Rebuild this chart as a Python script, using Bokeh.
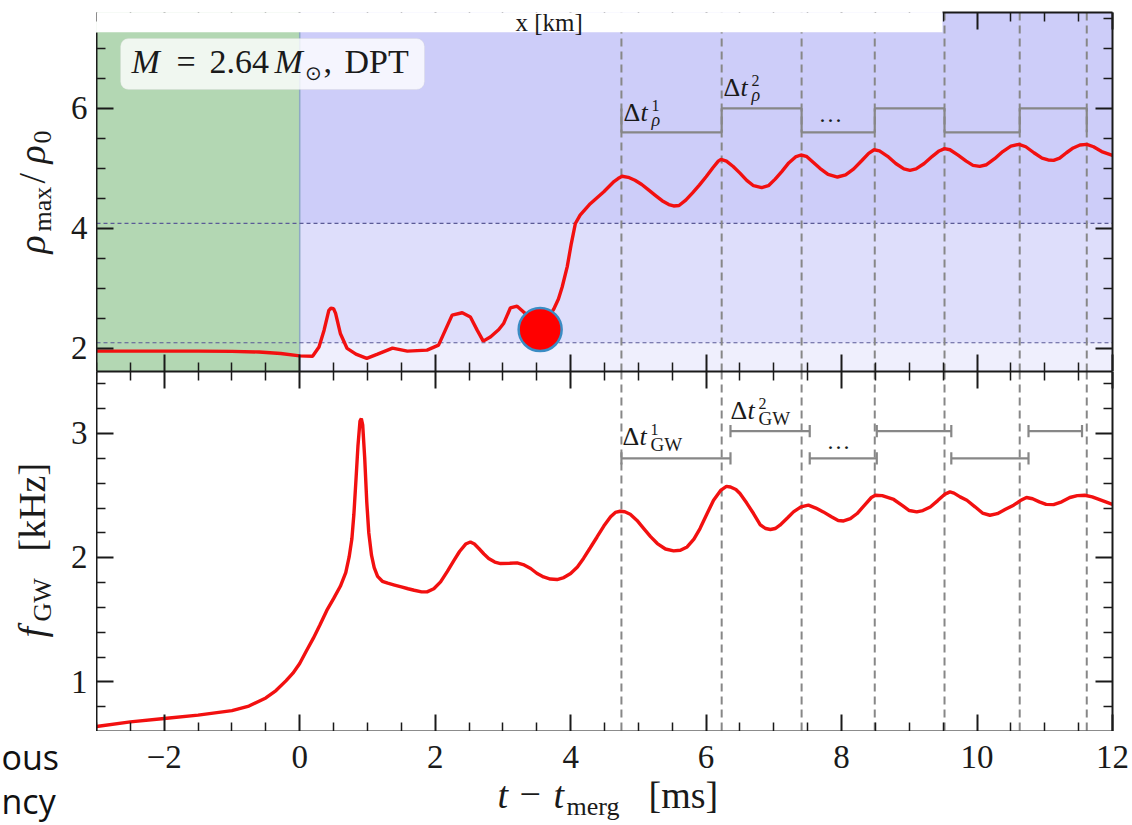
from math import pi

from bokeh.plotting import figure
from bokeh.models import Range1d, LinearAxis, FixedTicker, BoxAnnotation, Span, Label
from bokeh.layouts import column, row
from bokeh.embed import file_html
from bokeh.resources import INLINE

# ---------------------------------------------------------------- data
# maximum rest-mass density (in units of rho_0) vs time after merger [ms]
t_rho = [-3.0, -2.5, -2.0, -1.5, -1.0, -0.6, -0.28, 0.0, 0.19, 0.285, 0.36, 0.43, 0.46, 0.50,
         0.53, 0.60, 0.70, 0.83, 0.99, 1.15, 1.37, 1.59, 1.88, 2.05, 2.15, 2.25, 2.40, 2.52,
         2.62, 2.71, 2.82, 2.94, 3.01, 3.11, 3.21, 3.31, 3.40, 3.55, 3.68, 3.75, 3.82, 3.875,
         3.95, 4.01, 4.07, 4.14, 4.29, 4.49, 4.64, 4.70, 4.76, 4.85, 4.95, 5.05, 5.15, 5.25,
         5.35, 5.45, 5.52, 5.60, 5.70, 5.80, 5.90, 6.00, 6.10, 6.18, 6.22, 6.30, 6.40, 6.50,
         6.60, 6.70, 6.82, 6.92, 7.02, 7.12, 7.22, 7.32, 7.40, 7.48, 7.58, 7.68, 7.80, 7.94,
         8.06, 8.18, 8.30, 8.40, 8.48, 8.56, 8.68, 8.80, 8.92, 9.01, 9.10, 9.22, 9.34, 9.44,
         9.52, 9.60, 9.72, 9.84, 9.94, 10.04, 10.14, 10.26, 10.38, 10.50, 10.62, 10.72, 10.84,
         10.96, 11.05, 11.13, 11.22, 11.32, 11.42, 11.52, 11.62, 11.72, 11.84, 12.0]
rho = [1.95, 1.95, 1.95, 1.95, 1.945, 1.935, 1.91, 1.87, 1.865, 2.02, 2.30, 2.63, 2.665, 2.66,
       2.58, 2.245, 1.995, 1.90, 1.83, 1.90, 2.00, 1.95, 1.967, 2.05, 2.30, 2.55, 2.59, 2.52,
       2.30, 2.117, 2.19, 2.31, 2.41, 2.67, 2.70, 2.60, 2.50, 2.40, 2.52, 2.65, 2.82, 3.02,
       3.36, 3.745, 4.08, 4.22, 4.41, 4.61, 4.78, 4.83, 4.867, 4.85, 4.80, 4.73, 4.64, 4.55,
       4.46, 4.395, 4.372, 4.38, 4.47, 4.59, 4.72, 4.86, 5.01, 5.12, 5.15, 5.12, 5.03, 4.92,
       4.80, 4.71, 4.678, 4.71, 4.82, 4.95, 5.09, 5.19, 5.222, 5.20, 5.10, 5.00, 4.90, 4.855,
       4.89, 4.99, 5.13, 5.25, 5.31, 5.29, 5.20, 5.08, 4.99, 4.967, 4.99, 5.08, 5.20, 5.29,
       5.328, 5.31, 5.22, 5.12, 5.05, 5.033, 5.06, 5.16, 5.28, 5.37, 5.40, 5.36, 5.26,
       5.17, 5.14, 5.133, 5.17, 5.26, 5.34, 5.39, 5.40, 5.36, 5.28, 5.217]

# instantaneous gravitational-wave frequency [kHz]
t_gw = [-3.0, -2.5, -2.0, -1.5, -1.0, -0.75, -0.5, -0.35, -0.2, -0.1, 0.0, 0.1, 0.2, 0.3, 0.4,
        0.5, 0.6, 0.68, 0.73, 0.77, 0.80, 0.83, 0.86, 0.89, 0.91, 0.93, 0.96, 0.99, 1.02, 1.06,
        1.10, 1.15, 1.22, 1.30, 1.40, 1.50, 1.60, 1.69, 1.80, 1.88, 1.98, 2.08, 2.18, 2.28,
        2.36, 2.45, 2.52, 2.58, 2.645, 2.72, 2.79, 2.88, 2.965, 3.10, 3.21, 3.30, 3.41, 3.50,
        3.60, 3.70, 3.80, 3.90, 4.0, 4.10, 4.19, 4.29, 4.39, 4.49, 4.59, 4.66, 4.73, 4.80,
        4.88, 4.98, 5.08, 5.18, 5.28, 5.40, 5.52, 5.62, 5.72, 5.82, 5.91, 6.01, 6.11, 6.22,
        6.30, 6.36, 6.44, 6.50, 6.60, 6.70, 6.80, 6.88, 6.95, 7.02, 7.09, 7.20, 7.29, 7.40,
        7.51, 7.62, 7.73, 7.85, 7.95, 8.03, 8.13, 8.23, 8.35, 8.44, 8.50, 8.60, 8.77, 8.90,
        9.00, 9.11, 9.20, 9.31, 9.42, 9.52, 9.60, 9.66, 9.75, 9.85, 9.97, 10.08, 10.19, 10.30,
        10.42, 10.54, 10.64, 10.73, 10.82, 10.92, 11.02, 11.13, 11.25, 11.37, 11.48, 11.59,
        11.70, 11.85, 12.0]
f_gw = [0.64, 0.678, 0.705, 0.732, 0.768, 0.805, 0.87, 0.93, 1.01, 1.07, 1.148, 1.25, 1.35,
        1.46, 1.575, 1.67, 1.77, 1.88, 2.006, 2.15, 2.35, 2.62, 2.90, 3.10, 3.12, 3.07, 2.80,
        2.45, 2.20, 2.02, 1.92, 1.85, 1.81, 1.795, 1.78, 1.765, 1.75, 1.738, 1.725, 1.725,
        1.75, 1.805, 1.89, 1.98, 2.05, 2.11, 2.127, 2.11, 2.074, 2.03, 1.994, 1.965, 1.953,
        1.955, 1.958, 1.945, 1.913, 1.875, 1.845, 1.828, 1.824, 1.84, 1.873, 1.925, 1.994,
        2.08, 2.167, 2.255, 2.33, 2.365, 2.374, 2.37, 2.35, 2.30, 2.235, 2.17, 2.114, 2.07,
        2.055, 2.06, 2.087, 2.15, 2.235, 2.35, 2.463, 2.545, 2.575, 2.57, 2.55, 2.517, 2.44,
        2.356, 2.265, 2.235, 2.227, 2.235, 2.262, 2.32, 2.369, 2.41, 2.423, 2.40, 2.369, 2.33,
        2.30, 2.296, 2.315, 2.356, 2.43, 2.485, 2.503, 2.50, 2.469, 2.42, 2.38, 2.369, 2.38,
        2.409, 2.46, 2.51, 2.53, 2.52, 2.49, 2.463, 2.41, 2.36, 2.342, 2.355, 2.39, 2.423,
        2.46, 2.485, 2.475, 2.45, 2.43, 2.428, 2.45, 2.485, 2.50, 2.503, 2.49, 2.46, 2.43]

# density maxima (dashed guides) and GW-frequency maxima (interval brackets)
rho_peak_times = [4.75, 6.23, 7.41, 8.49, 9.52, 10.63, 11.62]
gw_peak_times = [4.75, 6.36, 7.53, 8.52, 9.62, 10.76, 11.55]
rho_bracket_levels = [5.6, 6.0]
gw_bracket_levels = [2.80, 3.02]

t_merger = 0.0
rho_thresholds = [2.09, 4.08]
onset_t = [3.55]
onset_rho = [2.31]

x_ticks = [-2, 0, 2, 4, 6, 8, 10, 12]
x_tick_labels = ["\u22122", "0", "2", "4", "6", "8", "10", "12"]
rho_ticks = [2, 4, 6]
f_ticks = [1, 2, 3]

# ---------------------------------------------------------------- layout constants
SERIF = "Liberation Serif"
INK = "#1a1a1a"
RED = "#f21010"
GREY = "#878787"

W, H = 1132, 825
X0, X1 = -3.0, 12.0
FRAME_L, FRAME_R = 96, 1112  # page x of the plot frames (left column is FRAME_L wide)
TOP_T, TOP_B = 12, 371       # page y of the upper frame
BOT_T, BOT_B = 371, 731      # page y of the lower frame
RHO_LIM = (1.61, 7.6)
F_LIM = (0.6, 3.5)
STRIP_B = 31.7               # lower edge of the white strip along the top
STRIP_R = 942                # right edge of the white strip
BASE_SHIFT = 0.34            # lifts the text anchor onto the glyph baseline (fraction of size)


def px_x(px):
    return X0 + (px - FRAME_L) * (X1 - X0) / (FRAME_R - FRAME_L)


def py_top(py):
    return RHO_LIM[1] - (py - TOP_T) * (RHO_LIM[1] - RHO_LIM[0]) / (TOP_B - TOP_T)


def py_bot(py):
    return F_LIM[1] - (py - BOT_T) * (F_LIM[1] - F_LIM[0]) / (BOT_B - BOT_T)


def top_py(v):
    return TOP_T + (RHO_LIM[1] - v) * (TOP_B - TOP_T) / (RHO_LIM[1] - RHO_LIM[0])


def bot_py(v):
    return BOT_T + (F_LIM[1] - v) * (BOT_B - BOT_T) / (F_LIM[1] - F_LIM[0])


def bare(p, free=False):
    p.xgrid.visible = False
    p.ygrid.visible = False
    p.outline_line_color = None
    p.background_fill_color = "white"
    p.border_fill_color = "white"
    if free and "frame_align" in p.properties():
        p.frame_align = False
    return p


def panel_fig(height, ylim, border_top, border_bottom):
    p = figure(title=None, width=W - FRAME_L, height=height, x_range=Range1d(X0, X1),
               y_range=Range1d(*ylim), output_backend="svg", toolbar_location=None,
               x_axis_location=None, y_axis_location=None,
               min_border_left=0, min_border_right=W - FRAME_R,
               min_border_top=border_top, min_border_bottom=border_bottom)
    return bare(p)


def text_fig(width, height, x_range, y_range):
    # frame fills the whole canvas
    p = figure(title=None, width=width, height=height, x_range=x_range, y_range=y_range,
               output_backend="svg", toolbar_location=None,
               x_axis_location=None, y_axis_location=None, min_border=0,
               min_border_left=0, min_border_right=0, min_border_top=0, min_border_bottom=0)
    return bare(p, free=True)


def add_axis(p, side, ticks, minor, bounds="auto"):
    ax = LinearAxis(ticker=FixedTicker(ticks=ticks, minor_ticks=minor), bounds=bounds)
    ax.axis_line_color = INK
    ax.axis_line_width = 2
    ax.major_tick_in = 17
    ax.major_tick_out = 0
    ax.minor_tick_in = 9
    ax.minor_tick_out = 0
    ax.major_tick_line_color = INK
    ax.major_tick_line_width = 2
    ax.minor_tick_line_color = INK
    ax.minor_tick_line_width = 1.5
    # numbers are set in the margin columns below
    ax.major_label_text_font_size = "0px"
    ax.major_label_text_color = None
    ax.major_label_standoff = 0
    p.add_layout(ax, side)


def put(p, text, x, y, size, style="normal", angle=0.0, font=SERIF, color=INK, align="left"):
    # (x, y) is the intended baseline-left point; the offset lifts the glyphs onto it
    shift = BASE_SHIFT * size
    xo, yo = (-shift, 0.0) if angle else (0.0, shift)
    p.add_layout(Label(x=x, y=y, x_offset=xo, y_offset=yo, text=text, text_font=font,
                       text_font_size=f"{size}px", text_font_style=style, text_color=color,
                       angle=angle, text_align=align, text_baseline="alphabetic",
                       level="overlay"))


x_minor = [v / 2 for v in range(-6, 25) if v % 4 != 0]
rho_minor = [2.5, 3.0, 3.5, 4.5, 5.0, 5.5, 6.5, 7.0, 7.5]
f_minor = [0.8, 1.2, 1.4, 1.6, 1.8, 2.2, 2.4, 2.6, 2.8, 3.2, 3.4]

# ================================================================ upper panel: rho_max / rho_0
top = panel_fig(TOP_B, RHO_LIM, TOP_T, 0)

# inspiral (green) and post-merger density bands (blue)
top.add_layout(BoxAnnotation(right=t_merger, fill_color="#b3d7b3", fill_alpha=1.0,
                             line_color=None, level="underlay"))
top.add_layout(BoxAnnotation(left=t_merger, top=rho_thresholds[0], fill_color="#efeffd",
                             fill_alpha=1.0, line_color=None, level="underlay"))
top.add_layout(BoxAnnotation(left=t_merger, bottom=rho_thresholds[0], top=rho_thresholds[1],
                             fill_color="#dedefb", fill_alpha=1.0, line_color=None, level="underlay"))
top.add_layout(BoxAnnotation(left=t_merger, bottom=rho_thresholds[1], fill_color="#cdcdf9",
                             fill_alpha=1.0, line_color=None, level="underlay"))
top.add_layout(Span(location=t_merger, dimension="height", line_color="#8fa9c4",
                    line_width=1.5, level="underlay"))
for thr in rho_thresholds:
    top.add_layout(Span(location=thr, dimension="width", line_color="#5a5a96",
                        line_width=1.2, line_dash="4 3", level="underlay"))
for tp in rho_peak_times:
    top.add_layout(Span(location=tp, dimension="height", line_color=GREY, line_width=2,
                        line_dash="8 5", level="underlay"))

# staircase of density-oscillation intervals
stair_x = [rho_peak_times[0]]
stair_y = [rho_bracket_levels[1]]
for i in range(len(rho_peak_times) - 1):
    lvl = rho_bracket_levels[i % 2]
    stair_x += [rho_peak_times[i], rho_peak_times[i + 1]]
    stair_y += [lvl, lvl]
stair_x.append(rho_peak_times[-1])
stair_y.append(rho_bracket_levels[0])
top.line(stair_x, stair_y, line_color=GREY, line_width=2.2)

top.line(t_rho, rho, line_color=RED, line_width=3.4)
top.scatter(onset_t, onset_rho, size=43, fill_color="#ff0000", line_color="#3a8cc4",
            line_width=2.5)

# white strip along the upper edge (frame border and ticks stop where it begins)
top.add_layout(BoxAnnotation(left=px_x(-20), right=px_x(STRIP_R), bottom=py_top(STRIP_B),
                             top=py_top(-20), fill_color="white", fill_alpha=1.0,
                             line_color=None, level="overlay"))

add_axis(top, "left", rho_ticks, rho_minor, bounds=(RHO_LIM[0], py_top(STRIP_B)))
add_axis(top, "right", rho_ticks, rho_minor)
add_axis(top, "above", x_ticks, x_minor, bounds=(px_x(STRIP_R), X1))
add_axis(top, "below", x_ticks, x_minor)

put(top, "x [km]", px_x(515), py_top(30), 25)

# model label
top.add_layout(BoxAnnotation(left=px_x(120), right=px_x(424), top=py_top(38), bottom=py_top(89),
                             fill_color="white", fill_alpha=0.8, line_color="#d4d4d4",
                             line_width=1, border_radius=8, level="overlay"))
for txt, px, style in [("M", 131, "italic"), ("=", 176, "normal"), ("2.64", 209, "normal"),
                       ("M", 274, "italic"), (",", 323, "normal"), ("DPT", 344, "normal")]:
    put(top, txt, px_x(px), py_top(73), 34, style)
put(top, "\u2299", px_x(304), py_top(79), 20)


# interval labels
def delta_label(p, to_y, px, base, sup, sub, sub_style, sub_size):
    put(p, "\u0394", px_x(px), to_y(base), 26)
    put(p, "t", px_x(px + 17), to_y(base), 26, "italic")
    put(p, sup, px_x(px + 28), to_y(base - 11), 16)
    put(p, sub, px_x(px + 28), to_y(base + 5), sub_size, sub_style)


delta_label(top, py_top, 623, 121, "1", "\u03c1", "italic", 18)
delta_label(top, py_top, 723, 96, "2", "\u03c1", "italic", 18)
put(top, "\u00b7\u00b7\u00b7", px_x(818), py_top(128), 24)

# ================================================================ lower panel: f_GW
bot = panel_fig(BOT_B - BOT_T, F_LIM, 0, 0)

for tp in rho_peak_times:
    bot.add_layout(Span(location=tp, dimension="height", line_color=GREY, line_width=2,
                        line_dash="8 5", level="underlay"))

# frequency-oscillation intervals with end caps
cap = 0.05
seg_x0, seg_y0, seg_x1, seg_y1 = [], [], [], []
for i in range(len(gw_peak_times) - 1):
    lvl = gw_bracket_levels[i % 2]
    a, b = gw_peak_times[i], gw_peak_times[i + 1]
    seg_x0 += [a, a, b]
    seg_x1 += [b, a, b]
    seg_y0 += [lvl, lvl - cap, lvl - cap]
    seg_y1 += [lvl, lvl + cap, lvl + cap]
bot.segment(seg_x0, seg_y0, seg_x1, seg_y1, line_color=GREY, line_width=2.2)

bot.line(t_gw, f_gw, line_color=RED, line_width=3.4)

add_axis(bot, "left", f_ticks, f_minor)
add_axis(bot, "right", f_ticks, f_minor)
add_axis(bot, "above", x_ticks, x_minor)
add_axis(bot, "below", x_ticks, x_minor)

delta_label(bot, py_bot, 622, 445, "1", "GW", "normal", 19)
delta_label(bot, py_bot, 730, 419, "2", "GW", "normal", 19)
put(bot, "\u00b7\u00b7\u00b7", px_x(826), py_bot(455), 24)

# ================================================================ time-axis numbers and title
# x in data units (same mapping as the panels), y in page pixels
xlab = text_fig(W - FRAME_L, H - BOT_B, Range1d(X0, px_x(W)), Range1d(H, BOT_B))
for v, s in zip(x_ticks, x_tick_labels):
    put(xlab, s, v, 768, 33, align="center")

put(xlab, "t", px_x(497), 807, 38, "italic")
put(xlab, "\u2212", px_x(519), 807, 38)
put(xlab, "t", px_x(553), 807, 38, "italic")
put(xlab, "merg", px_x(566), 815, 26)
put(xlab, "[ms]", px_x(648), 807, 38)

# ================================================================ left column: y numbers and titles
side = text_fig(FRAME_L, H, Range1d(0, FRAME_L), Range1d(H, 0))
for v in rho_ticks:
    put(side, str(v), 87, top_py(v) + 11, 33, align="right")
for v in f_ticks:
    put(side, str(v), 87, bot_py(v) + 11, 33, align="right")

R = pi / 2
put(side, "\u03c1", 44, 253, 38, "italic", R)
put(side, "max", 51, 231, 26, "normal", R)
put(side, "/", 44, 183, 38, "normal", R)
put(side, "\u03c1", 44, 163, 38, "italic", R)
put(side, "0", 51, 143, 26, "normal", R)

put(side, "f", 44, 637, 38, "italic", R)
put(side, "GW", 51, 621, 26, "normal", R)
put(side, "[kHz]", 44, 551, 38, "normal", R)

# caption fragments at the lower-left edge
put(side, "ous", 1, 768, 34, "normal", 0.0, "Open Sans", "#111111")
put(side, "ncy", 1, 812, 34, "normal", 0.0, "Open Sans", "#111111")

layout = row(side, column(top, bot, xlab, spacing=0), spacing=0)
open("out.html", "w").write(file_html(layout, INLINE))
